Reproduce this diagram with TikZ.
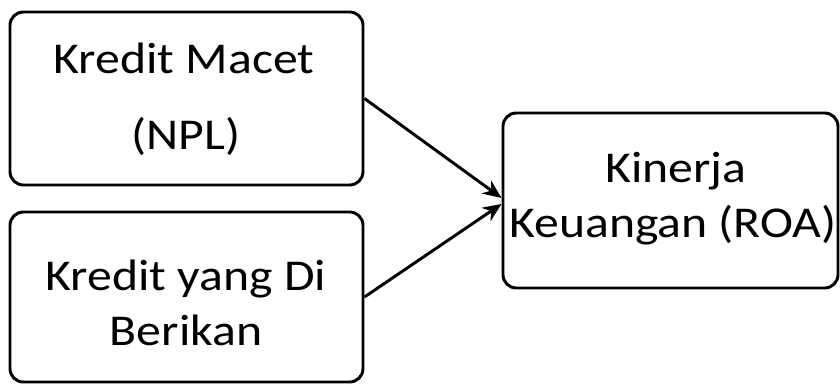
\documentclass[tikz,border=0pt]{standalone}
\usepackage{fontspec}
\setmainfont{Carlito}
\usetikzlibrary{arrows.meta}
\begin{document}
\begin{tikzpicture}[x=0.75pt,y=-0.75pt,
  box/.style={draw, line width=2.2pt, rounded corners=10pt, inner sep=0pt},
  lbl/.style={anchor=base, font=\fontsize{33}{39}\selectfont, inner sep=0pt, xscale=1.13, transform shape},
  link/.style={line width=2.2pt, -{Stealth[length=14pt,width=12pt]}}]
\useasboundingbox (0,0) rectangle (840,385);

% boxes
\node[box, minimum width=264.75pt, minimum height=129.75pt] (npl) at (186.5,98.5) {};
\node[box, minimum width=264.75pt, minimum height=127.5pt] (kred) at (186.5,297) {};
\node[box, minimum width=251.25pt, minimum height=131.25pt] (roa) at (670.5,200.5) {};

% labels
\node[lbl] (npl1) at (184,74) {Kredit Macet};
\node[lbl] (npl2) at (186,150) {(NPL)};
\node[lbl] (kred1) at (186,290) {Kredit yang Di};
\node[lbl] (kred2) at (186,345) {Berikan};
\node[lbl] (roa1) at (676,183) {Kinerja};
\node[lbl] (roa2) at (673,238) {Keuangan (ROA)};

% connectors
\draw[link] (npl.east) -- ([yshift=1.9pt]roa.west);
\draw[link] (kred.east) -- ([yshift=-2.6pt]roa.west);
\end{tikzpicture}
\end{document}
